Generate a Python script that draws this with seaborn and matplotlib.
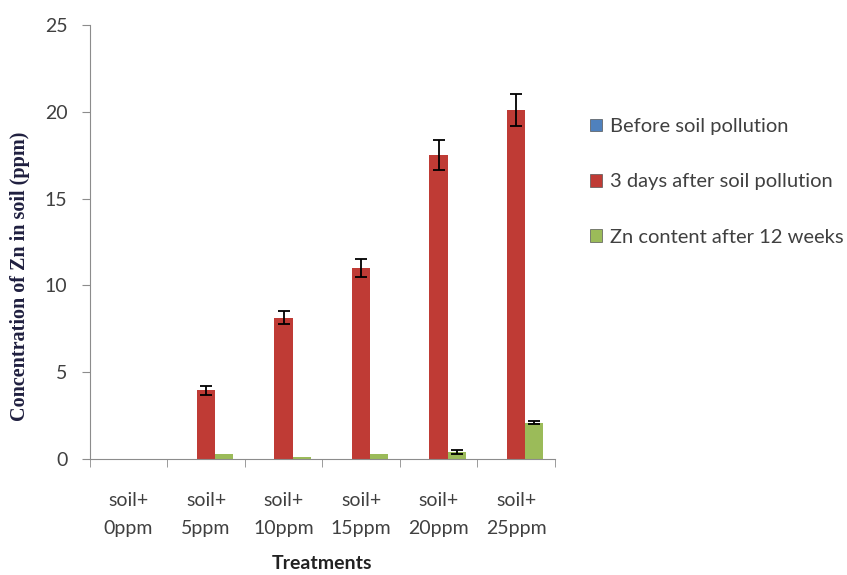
import matplotlib
matplotlib.use("Agg")
import matplotlib.pyplot as plt
import seaborn as sns
import pandas as pd
import numpy as np

treatments = ["soil+\n0ppm", "soil+\n5ppm", "soil+\n10ppm", "soil+\n15ppm", "soil+\n20ppm", "soil+\n25ppm"]
series = ["Before soil pollution", "3 days after soil pollution", "Zn content after 12 weeks"]
before = [0, 0, 0, 0, 0, 0]
after_3d = [0, 3.95, 8.15, 11.0, 17.5, 20.1]
after_12w = [0, 0.3, 0.1, 0.3, 0.4, 2.1]
err_before = [0, 0, 0, 0, 0, 0]
err_3d = [0, 0.25, 0.4, 0.5, 0.85, 0.9]
err_12w = [0, 0, 0, 0, 0.1, 0.1]

colors = ["#4F81BD", "#BF3B35", "#9BBB59"]

df = pd.DataFrame({
    "Treatment": treatments * 3,
    "Series": np.repeat(series, len(treatments)),
    "Value": before + after_3d + after_12w,
})
errs = [err_before, err_3d, err_12w]

sns.set_style("white")
fig = plt.figure(figsize=(8.47, 5.75), dpi=100)
ax = fig.add_axes([0.106, 0.2017, 0.549, 0.7548])

sns.barplot(data=df, x="Treatment", y="Value", hue="Series", palette=colors,
            width=0.7, errorbar=None, ax=ax, legend=False,
            edgecolor="none", saturation=1)

for cont, e in zip(ax.containers, errs):
    xs = [p.get_x() + p.get_width() / 2 for p in cont.patches]
    hs = [p.get_height() for p in cont.patches]
    for x, h, ee in zip(xs, hs, e):
        if ee > 0:
            ax.errorbar(x, h, yerr=ee, fmt="none", ecolor="black", elinewidth=1.3,
                        capsize=4, capthick=1.3)

ax.set_ylim(0, 25)
ax.set_yticks(range(0, 26, 5))
ax.set_xlim(-0.5, len(treatments) - 0.5)
for s in ["top", "right"]:
    ax.spines[s].set_visible(False)
for s in ["left", "bottom"]:
    ax.spines[s].set_color("#8C8C8C")
ax.tick_params(axis="y", which="major", left=True, length=6, color="#8C8C8C",
               labelsize=14, labelcolor="#404040", pad=10)
ax.tick_params(axis="x", which="major", bottom=False, labelsize=14,
               labelcolor="#404040", pad=20)
ax.set_xticks(np.arange(-0.5, len(treatments), 1), minor=True)
ax.tick_params(axis="x", which="minor", bottom=True, length=6, color="#8C8C8C")
for lbl in ax.get_xticklabels() + ax.get_yticklabels():
    lbl.set_fontfamily("Lato")
    lbl.set_linespacing(1.8)

ax.set_xlabel("Treatments", fontsize=14, fontweight="bold", family="Lato",
              color="#222222", labelpad=13)
ax.set_ylabel("Concentration of Zn in soil (ppm)", fontsize=14.5, fontweight="bold",
              family="Liberation Serif", color="#1F1F3F")
ax.yaxis.set_label_coords(-0.128, 0.42)

handles = [plt.Rectangle((0, 0), 1, 1, facecolor=c, edgecolor="#555555", linewidth=0.5)
           for c in colors]
fig.legend(handles, series, loc="upper left", bbox_to_anchor=(0.675, 0.826),
           frameon=False, handlelength=0.6, handleheight=0.6, handletextpad=0.4,
           labelspacing=1.9, prop={"family": "Lato", "size": 14.5},
           labelcolor="#404040")

fig.savefig("out.png", dpi=100)
